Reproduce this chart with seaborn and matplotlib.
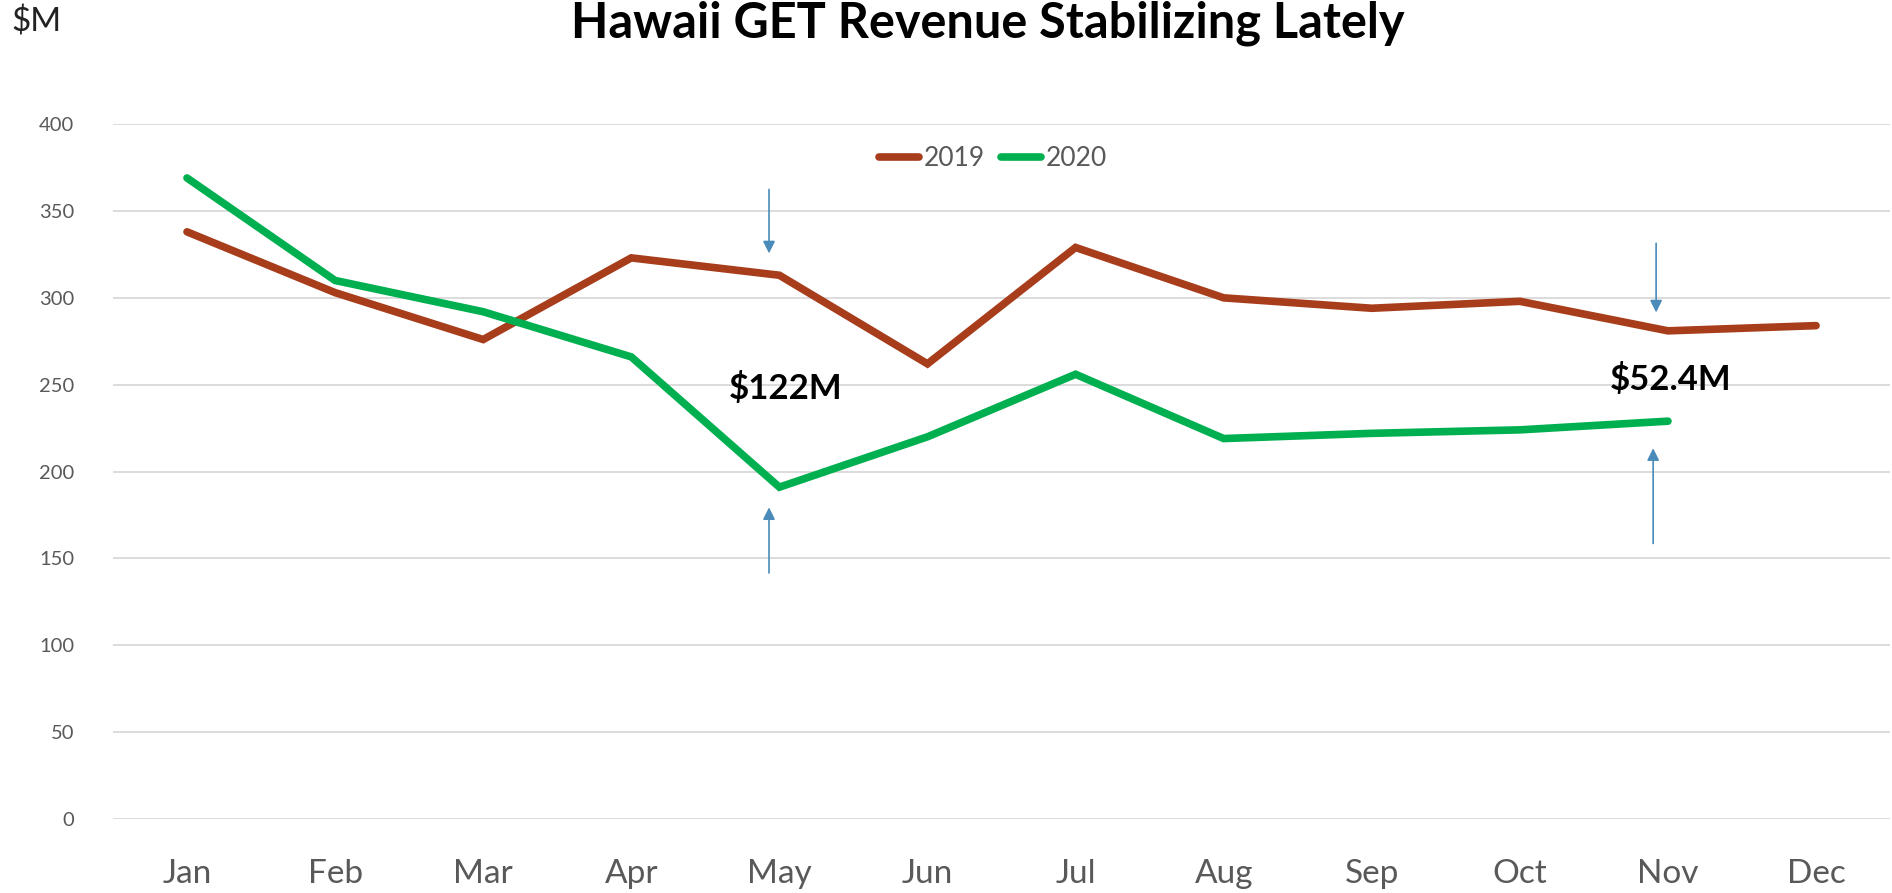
import matplotlib
matplotlib.use("Agg")
import matplotlib.pyplot as plt
import seaborn as sns
import pandas as pd
from matplotlib.lines import Line2D

# Monthly Hawaii GET revenue, $M
months = ['Jan', 'Feb', 'Mar', 'Apr', 'May', 'Jun', 'Jul', 'Aug', 'Sep', 'Oct', 'Nov', 'Dec']
rev_2019 = [338, 303, 276, 323, 313, 262, 329, 300, 294, 298, 281, 284]
rev_2020 = [369, 310, 292, 266, 191, 220, 256, 219, 222, 224, 229]
gap_labels = ['$122M', '$52.4M']
gap_months = ['May', 'Nov']

df = pd.concat([
    pd.DataFrame({'month': months, 'value': rev_2019, 'year': '2019'}),
    pd.DataFrame({'month': months[:len(rev_2020)], 'value': rev_2020, 'year': '2020'}),
])

sns.set_style('white')
plt.rcParams['font.family'] = ['Lato', 'DejaVu Sans']

colors = {'2019': '#A83D1C', '2020': '#00B050'}

fig = plt.figure(figsize=(18.92, 8.93), dpi=100)
ax = fig.add_axes([0.0597, 0.0829, 0.9393, 0.7781])

sns.lineplot(data=df, x='month', y='value', hue='year', palette=colors,
             linewidth=5.5, sort=False, ax=ax, legend=False,
             solid_capstyle='round', solid_joinstyle='miter')

ax.set_ylim(0, 400)
ax.set_xlim(-0.5, len(months) - 0.5)
ax.set_yticks(range(0, 401, 50))
ax.grid(axis='y', color='#D9D9D9', linewidth=1.3)
ax.set_axisbelow(True)
for s in ax.spines.values():
    s.set_visible(False)
ax.tick_params(axis='y', labelsize=14.5, labelcolor='#595959', length=0, pad=28)
ax.tick_params(axis='x', labelsize=24, labelcolor='#595959', length=0, pad=29)
ax.set_xlabel('')
ax.set_ylabel('')

# legend
handles = [Line2D([0], [0], color=colors[y], lw=5.5, solid_capstyle='round') for y in ['2019', '2020']]
fig.legend(handles, ['2019', '2020'], loc='center', bbox_to_anchor=(0.525, 0.822),
           ncol=2, frameon=False, fontsize=19, handlelength=1.5, handletextpad=0.2,
           columnspacing=0.6, labelcolor='#595959')

# gap annotations
arrow_kw = dict(arrowstyle='-|>', color='#4A8BBA', lw=1.2, mutation_scale=18)
i_may = months.index(gap_months[0])
i_nov = months.index(gap_months[1])
ax.annotate('', xy=(i_may - 0.07, 324), xytext=(i_may - 0.07, 364), arrowprops=arrow_kw)
ax.annotate('', xy=(i_may - 0.07, 181), xytext=(i_may - 0.07, 140), arrowprops=arrow_kw)
ax.annotate('', xy=(i_nov - 0.08, 290), xytext=(i_nov - 0.08, 333), arrowprops=arrow_kw)
ax.annotate('', xy=(i_nov - 0.1, 215), xytext=(i_nov - 0.1, 157), arrowprops=arrow_kw)
ax.text(i_may + 0.04, 248, gap_labels[0], ha='center', va='center', fontsize=25,
        fontweight='bold', color='black')
ax.text(i_nov + 0.02, 253, gap_labels[1], ha='center', va='center', fontsize=25,
        fontweight='bold', color='black')

fig.text(0.522, 0.958, 'Hawaii GET Revenue Stabilizing Lately', ha='center', va='baseline',
         fontsize=35, fontweight='bold', color='black')
fig.text(0.006, 0.975, '$M', ha='left', va='center', fontsize=24, color='#222222')

fig.savefig('out.png', dpi=100)
